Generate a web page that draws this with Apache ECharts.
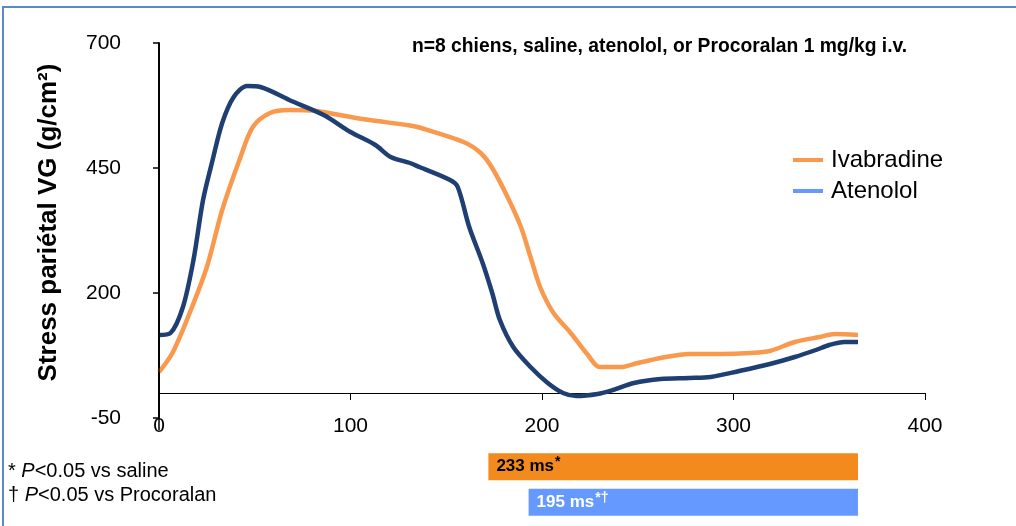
<!DOCTYPE html>
<html><head><meta charset="utf-8">
<script src="https://cdn.jsdelivr.net/npm/echarts@6/dist/echarts.min.js"></script>
<style>html,body{margin:0;padding:0;background:#fff}#c{width:1016px;height:526px}</style>
</head><body><div id="c"></div>
<script>
// time (ms) and wall stress (g/cm2)
const ivabradineT = [0,7,16,25,33,42,49,58,68,82,100,110,131,136,159,168,174,182,189,194,199,206,215,224,230,241,250,262,277,293,309,319,332,345,353,365];
const ivabradineV = [42,80,160,252,366,466,532,560,566,564,552,546,535,531,502,480,450,392,332,272,212,160,120,76,52,52,60,70,78,78,80,84,102,112,118,116];
const atenololT = [0,6,12.5,18,23,28,33,39,46,53,68,86,100,113,121,131,136,152,156,162,169,174,178,185,194,203,211,218,229,237,248,262,277,288,303,319,332,343,350,358,365];
const atenololV = [116,120,172,266,386,466,540,592,614,612,586,556,522,496,472,460,452,426,412,332,260,200,146,92,52,20,0,-6,-2,6,20,28,30,32,44,58,72,86,96,102,102];
const seriesNames = ['Ivabradine','Atenolol'];
const xTicks = [0,100,200,300,400];
const yTicks = [-50,200,450,700];
// duration bars
const barNames = ['233 ms','195 ms'];
const barSup = ['*','*\u2020'];
const barStart = [172,193];
const barEnd = [365,365];

const FONT = "Arial, 'Liberation Sans', sans-serif";
const chart = echarts.init(document.getElementById('c'));
const toPairs = (t,v)=>t.map((x,i)=>[x,v[i]]);
const foot = (sym, rest, y) => ({type:'text', x:8, y:y, style:{text:'{a|'+sym+' }{i|P}{a|'+rest+'}', verticalAlign:'middle',
  rich:{a:{fontFamily:FONT,fontSize:20,fill:'#000'},i:{fontFamily:FONT,fontSize:20,fontStyle:'italic',fill:'#000'}}}});
const baseGraphic = [
  {type:'polyline', shape:{points:[[3,540],[3,7],[1030,7]]}, style:{fill:null, stroke:'#5B8AC8', lineWidth:2}, silent:true},
  foot('*', '<0.05 vs saline', 471),
  foot('\u2020', '<0.05 vs Procoralan', 495)
];
chart.setOption({
  animation:false,
  title:{text:'n=8 chiens, saline, atenolol, or Procoralan 1 mg/kg i.v.', left:407, top:32,
    textStyle:{fontFamily:FONT, fontWeight:'bold', fontSize:19.3, color:'#000'}},
  legend:{orient:'vertical', left:788, top:143, itemWidth:30, itemHeight:4, itemGap:7, icon:'rect',
    textStyle:{fontFamily:FONT, fontSize:24, color:'#000', padding:[0,0,0,3]},
    data:[{name:seriesNames[0], itemStyle:{color:'#F9994D'}},{name:seriesNames[1], itemStyle:{color:'#6699FF'}}]},
  graphic:baseGraphic,
  grid:[{left:159, right:91, top:43, bottom:108},{left:159, right:91, top:449, height:71}],
  xAxis:[
    {type:'value', gridIndex:0, min:xTicks[0], max:xTicks[xTicks.length-1], interval:100,
     axisLine:{show:true, lineStyle:{color:'#000', width:1}}, axisTick:{show:true, length:7, lineStyle:{color:'#000'}},
     axisLabel:{margin:-2, fontFamily:FONT, fontSize:21, color:'#000'}, splitLine:{show:false}},
    {type:'value', gridIndex:1, min:0, max:400, show:false}
  ],
  yAxis:[
    {type:'value', gridIndex:0, min:yTicks[0], max:yTicks[yTicks.length-1], interval:250,
     name:'Stress pariétal VG (g/cm²)', nameLocation:'middle', nameGap:97,
     nameTextStyle:{fontFamily:FONT, fontWeight:'bold', fontSize:26, color:'#000', padding:[0,0,0,16]},
     axisLine:{show:true, lineStyle:{color:'#111', width:2}}, axisTick:{show:true, length:6, lineStyle:{color:'#000', width:1.5}},
     axisLabel:{margin:38, fontFamily:FONT, fontSize:21, color:'#000'}, splitLine:{show:false}},
    {type:'category', gridIndex:1, data:barNames, inverse:true, show:false}
  ],
  series:[
    {name:seriesNames[0], type:'line', xAxisIndex:0, yAxisIndex:0, data:toPairs(ivabradineT, ivabradineV), smooth:0.3, showSymbol:false,
     lineStyle:{color:'#F9994D', width:4.5}, itemStyle:{color:'#F9994D'}, z:2},
    {name:seriesNames[1], type:'line', xAxisIndex:0, yAxisIndex:0, data:toPairs(atenololT, atenololV), smooth:0.3, showSymbol:false,
     lineStyle:{color:'#1F3F73', width:4.5}, itemStyle:{color:'#1F3F73'}, z:3},
    {type:'bar', xAxisIndex:1, yAxisIndex:1, stack:'d', barWidth:27, data:barStart, itemStyle:{color:'rgba(0,0,0,0)'}, silent:true},
    {type:'bar', xAxisIndex:1, yAxisIndex:1, stack:'d', barWidth:27,
     data:barEnd.map((e,i)=>({value:e-barStart[i], itemStyle:{color:i===0?'#F28A1E':'#6699FF'},
       label:{show:true, position:'insideLeft', distance:8,
         formatter:'{a|'+barNames[i]+'}{s|'+barSup[i]+'}',
         rich:{a:{fontFamily:FONT, fontWeight:'bold', fontSize:17, color:i===0?'#000':'#fff'},
               s:{fontFamily:FONT, fontWeight:'bold', fontSize:14, color:i===0?'#000':'#fff', padding:[0,0,9,1]}}}}))}
  ]
});
// y-axis line placed through the chart's own scale
const pBottom = chart.convertToPixel({gridIndex:0}, [xTicks[0], yTicks[0]]);
const pTop = chart.convertToPixel({gridIndex:0}, [xTicks[0], yTicks[yTicks.length-1]]);
chart.setOption({graphic: baseGraphic.concat([{type:'line', z:100, silent:true,
  shape:{x1:pBottom[0], y1:pBottom[1] + 12, x2:pTop[0], y2:pTop[1]},
  style:{stroke:'#000', lineWidth:1.5}}])});
</script></body></html>
